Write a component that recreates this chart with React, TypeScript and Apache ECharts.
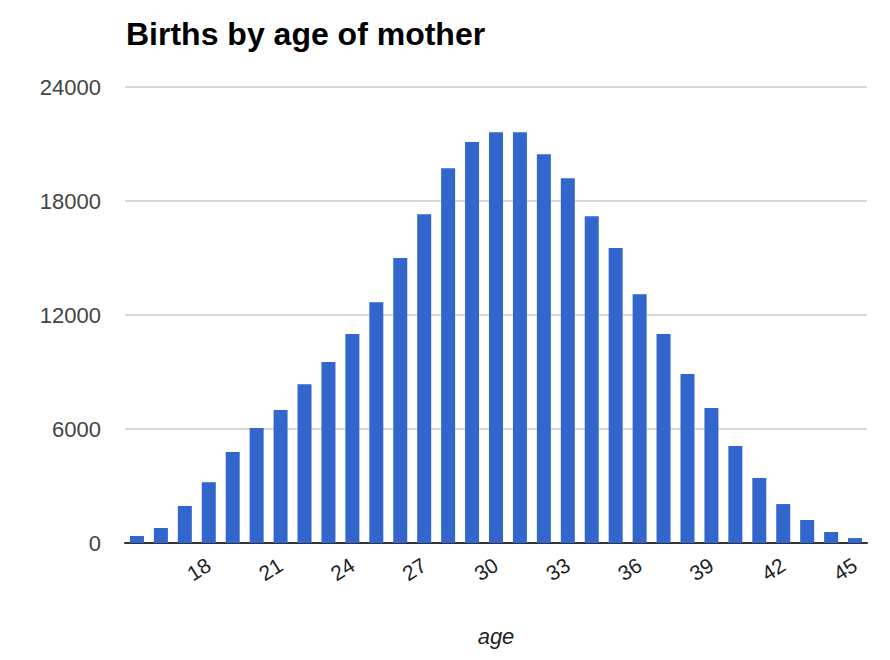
import React, { useEffect, useRef } from "react";
import * as echarts from "echarts";

const ages: string[] = [
  "15", "16", "17", "18", "19", "20", "21", "22", "23", "24", "25",
  "26", "27", "28", "29", "30", "31", "32", "33", "34", "35",
  "36", "37", "38", "39", "40", "41", "42", "43", "44", "45",
];

const births: number[] = [
  370, 790, 1950, 3200, 4790, 6050, 7000, 8360, 9520, 11000, 12670,
  15000, 17300, 19730, 21100, 21620, 21620, 20460, 19200, 17200, 15520,
  13090, 11000, 8890, 7100, 5100, 3420, 2050, 1210, 580, 260,
];

const yTicks: number[] = [0, 6000, 12000, 18000, 24000];

const FONT = "'Liberation Sans', Arial, Helvetica, sans-serif";

export default function App() {
  const ref = useRef<HTMLDivElement>(null);

  useEffect(() => {
    if (!ref.current) return;
    const chart = echarts.init(ref.current, undefined, { renderer: "svg" });
    chart.setOption({
      animation: false,
      backgroundColor: "#ffffff",
      title: {
        text: "Births by age of mother",
        left: 121,
        top: 13,
        textStyle: {
          fontFamily: FONT,
          fontSize: 32,
          fontWeight: "bold",
          color: "#000000",
        },
      },
      grid: {
        left: 125,
        right: 23,
        top: 87,
        bottom: 117,
        containLabel: false,
      },
      xAxis: {
        type: "category",
        data: ages,
        name: "age",
        nameLocation: "middle",
        nameGap: 82,
        nameTextStyle: {
          fontFamily: FONT,
          fontSize: 22,
          fontStyle: "italic",
          color: "#222222",
        },
        axisLine: { show: true, lineStyle: { color: "#333333", width: 2 } },
        axisTick: { show: false },
        axisLabel: {
          interval: (index: number) => index > 0 && index % 3 === 0,
          rotate: 32,
          margin: 20,
          fontFamily: FONT,
          fontSize: 21,
          color: "#222222",
        },
      },
      yAxis: {
        type: "value",
        min: yTicks[0],
        max: yTicks[yTicks.length - 1],
        interval: yTicks[1] - yTicks[0],
        axisLine: { show: false },
        axisTick: { show: false },
        axisLabel: {
          margin: 24,
          fontFamily: FONT,
          fontSize: 22,
          color: "#444444",
          formatter: (v: number) => String(v),
        },
        splitLine: { lineStyle: { color: "#cccccc", width: 1.5 } },
      },
      series: [
        {
          type: "bar",
          data: births,
          barWidth: 14,
          itemStyle: { color: "#3366CC" },
        },
      ],
    });
    return () => chart.dispose();
  }, []);

  return (
    <div
      ref={ref}
      style={{ position: "absolute", left: 0, top: 0, width: 890, height: 660 }}
    />
  );
}
